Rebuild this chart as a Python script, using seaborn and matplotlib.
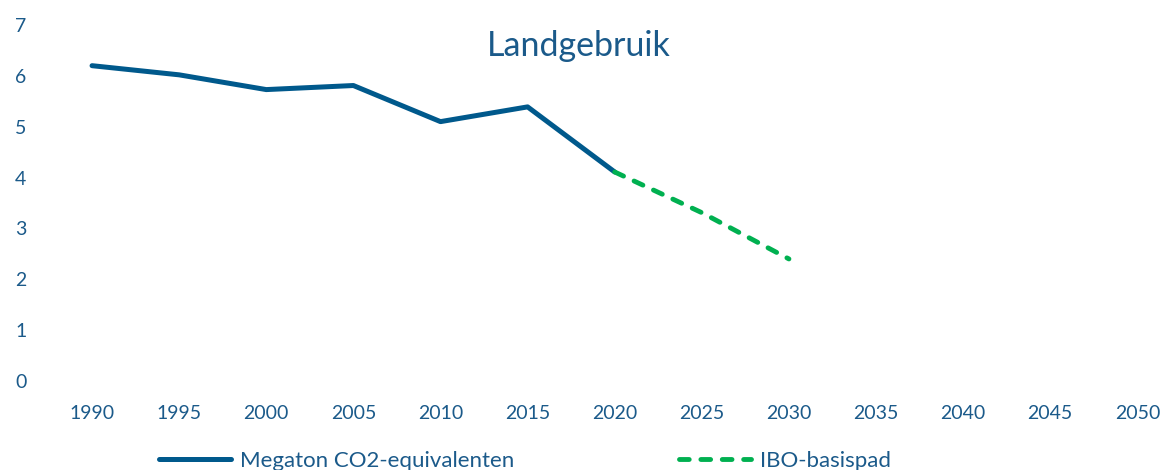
import matplotlib
matplotlib.use('Agg')
import matplotlib.pyplot as plt
import pandas as pd
import seaborn as sns

blue = '#00598C'
green = '#00B050'
text_color = '#1B5A8A'

years = [1990, 1995, 2000, 2005, 2010, 2015, 2020]
emissions = [6.20, 6.02, 5.73, 5.81, 5.10, 5.39, 4.11]
ibo_years = [2020, 2025, 2030]
ibo = [4.11, 3.31, 2.40]
tick_years = list(range(1990, 2051, 5))
yticks = [0, 1, 2, 3, 4, 5, 6, 7]

sns.set_style('white')
plt.rcParams['font.family'] = ['Lato', 'DejaVu Sans']

df = pd.DataFrame({'jaar': years, 'waarde': emissions})
df_ibo = pd.DataFrame({'jaar': ibo_years, 'waarde': ibo})

fig = plt.figure(figsize=(11.64, 4.70), dpi=100)
ax = fig.add_axes([48.5 / 1164, 89 / 470, 1115 / 1164, 356 / 470])

sns.lineplot(data=df, x='jaar', y='waarde', ax=ax, color=blue, linewidth=3.6,
             label='Megaton CO2-equivalenten', solid_capstyle='round')
sns.lineplot(data=df_ibo, x='jaar', y='waarde', ax=ax, color=green, linewidth=3.5,
             label='IBO-basispad', dashes=(2.0, 2.4), dash_capstyle='round')

ax.set_xlim(1987.5, 2051.5)
ax.set_ylim(0, 7)
ax.set_xticks(tick_years)
ax.set_yticks(yticks)
ax.tick_params(axis='x', length=0, pad=17, labelsize=14, labelcolor=text_color)
ax.tick_params(axis='y', length=0, pad=16, labelsize=14, labelcolor=text_color)
ax.set_xlabel('')
ax.set_ylabel('')
sns.despine(ax=ax, left=True, bottom=True)
ax.grid(False)

ax.text(0.476, 0.94, 'Landgebruik', transform=ax.transAxes, ha='center', va='center',
        fontsize=24.5, color=text_color)

handles, labels = ax.get_legend_handles_labels()
ax.get_legend().remove()
leg = fig.legend(handles, labels, ncol=2, loc='center', bbox_to_anchor=(0.451, 0.02),
                 frameon=False, fontsize=16, handlelength=3.25, columnspacing=7.4,
                 handletextpad=0.4)
for t in leg.get_texts():
    t.set_color(text_color)

fig.savefig('out.png', dpi=100)
